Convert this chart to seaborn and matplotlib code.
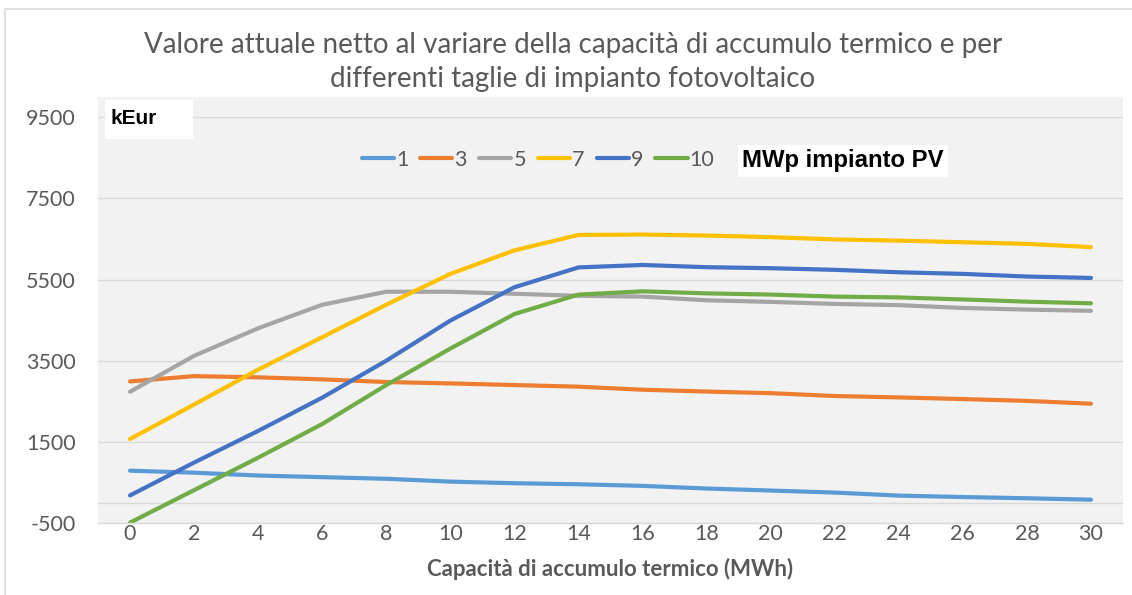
import numpy as np
import pandas as pd
import matplotlib
matplotlib.use("Agg")
import matplotlib.pyplot as plt
import seaborn as sns
from matplotlib.patches import Rectangle

# ---------------- data ----------------
capacity = [0, 2, 4, 6, 8, 10, 12, 14, 16, 18, 20, 22, 24, 26, 28, 30]
pv_1 = [790, 740, 670, 630, 590, 520, 480, 455, 415, 350, 300, 250, 175, 140, 110, 75]
pv_3 = [2990, 3120, 3090, 3040, 2975, 2940, 2900, 2860, 2785, 2740, 2700, 2630, 2595, 2555, 2510, 2440]
pv_5 = [2735, 3620, 4300, 4880, 5200, 5200, 5150, 5100, 5080, 4990, 4950, 4900, 4870, 4800, 4760, 4730]
pv_7 = [1570, 2420, 3280, 4080, 4880, 5640, 6220, 6600, 6610, 6585, 6545, 6490, 6460, 6420, 6380, 6300]
pv_9 = [180, 990, 1770, 2590, 3500, 4490, 5310, 5800, 5860, 5805, 5780, 5740, 5680, 5640, 5575, 5540]
pv_10 = [-490, 310, 1110, 1940, 2900, 3800, 4650, 5130, 5210, 5160, 5130, 5080, 5060, 5010, 4955, 4915]
series_labels = ["1", "3", "5", "7", "9", "10"]
series_values = [pv_1, pv_3, pv_5, pv_7, pv_9, pv_10]
colors = ["#5B9BD5", "#ED7D31", "#A5A5A5", "#FFC000", "#4472C4", "#70AD47"]
y_ticks = [-500, 1500, 3500, 5500, 7500, 9500]

title = ("Valore attuale netto al variare della capacità di accumulo termico e per\n"
         "differenti taglie di impianto fotovoltaico")
x_label = "Capacità di accumulo termico (MWh)"
unit_label = "kEur"
legend_title = "MWp impianto PV"

rows = []
for lab, vals in zip(series_labels, series_values):
    for c, v in zip(capacity, vals):
        rows.append({"cap": c, "van": v, "pv": lab})
df = pd.DataFrame(rows)

# ---------------- style ----------------
sns.set_style("white")
plt.rcParams["font.family"] = ["Lato", "DejaVu Sans"]
plt.rcParams["axes.unicode_minus"] = False
grey = "#595959"

W, H = 1132, 595
fig = plt.figure(figsize=(W / 100, H / 100), dpi=100)
fig.patch.set_facecolor("white")

def fbox(x0, y0, x1, y1, **kw):
    # rectangle given in figure pixels (top-left origin)
    return Rectangle((x0 / W, 1 - y1 / H), (x1 - x0) / W, (y1 - y0) / H,
                     transform=fig.transFigure, **kw)

# outer chart border
fig.patches.append(fbox(5, 9, 1200, 700, fill=False, edgecolor="#d9d9d9", linewidth=1.2))

ax = fig.add_axes([98 / W, 1 - 523 / H, (1123 - 98) / W, (523 - 97) / H])
ax.set_facecolor("#f2f2f2")

sns.lineplot(data=df, x="cap", y="van", hue="pv", hue_order=series_labels,
             palette=colors, linewidth=3, ax=ax, legend=True)
for ln in ax.lines:
    ln.set_solid_capstyle("round")
    ln.set_solid_joinstyle("round")

ax.set_xlim(-1, 31)
ax.set_ylim(-500, 10000)
ax.set_xticks(capacity)
ax.set_yticks(y_ticks)
ax.grid(axis="y", color="#d9d9d9", linewidth=1)
ax.grid(axis="x", visible=False)
ax.axhline(0, color="#d9d9d9", linewidth=1, zorder=0.5)
ax.set_axisbelow(True)
for s in ["top", "right", "left"]:
    ax.spines[s].set_visible(False)
ax.spines["bottom"].set_color("#d9d9d9")
ax.spines["bottom"].set_linewidth(1)
ax.tick_params(axis="both", length=0, labelsize=15.5, labelcolor=grey)
ax.tick_params(axis="y", pad=16)
ax.tick_params(axis="x", pad=1)
ax.set_xlabel(x_label, fontsize=16, fontweight="bold", color=grey, labelpad=10)
ax.set_ylabel("")

handles, labels = ax.get_legend_handles_labels()
leg = ax.legend(handles, labels, ncol=6, loc="center",
                bbox_to_anchor=(538 / W, 1 - 160 / H), bbox_transform=fig.transFigure,
                frameon=False, fontsize=15.5, handlelength=1.5, handletextpad=0.1,
                columnspacing=0.55, labelcolor=grey)
for h in leg.get_lines():
    h.set_linewidth(3)
    h.set_solid_capstyle("round")

fig.text(573 / W, 1 - 62 / H, title, ha="center", va="center", fontsize=20,
         color=grey, fontweight="normal", linespacing=1.42)

# white label boxes
fig.patches.append(fbox(105, 100, 193, 139, facecolor="white", edgecolor="none"))
fig.patches.append(fbox(738, 145, 948, 177, facecolor="white", edgecolor="none"))
fig.text(110 / W, 1 - 118 / H, unit_label, ha="left", va="center", fontsize=15,
         fontweight="bold", color="black", family=["Liberation Sans", "DejaVu Sans"])
fig.text(742 / W, 1 - 161 / H, legend_title, ha="left", va="center", fontsize=17.2,
         fontweight="bold", color="black", family=["Liberation Sans", "DejaVu Sans"])

fig.savefig("out.png", dpi=100)
